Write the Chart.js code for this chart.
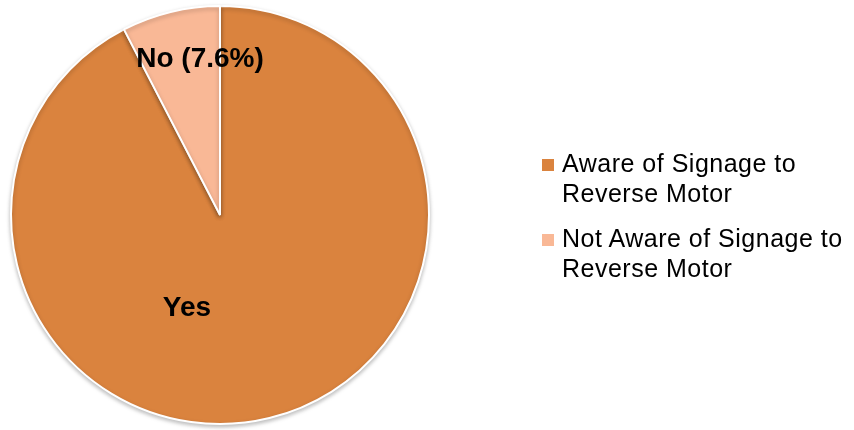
<!DOCTYPE html>
<html>
<head>
<meta charset="utf-8">
<script src="https://cdn.jsdelivr.net/npm/chart.js@4"></script>
<style>
  html, body { margin: 0; padding: 0; background: #fff; }
  #wrap { position: relative; width: 854px; height: 430px; }
  #legend { position: absolute; left: 542px; top: 148px; font-family: 'Liberation Sans', Arial, sans-serif; font-size: 25px; letter-spacing: 0.5px; color: #000; line-height: 30px; white-space: nowrap; }
  .item { display: flex; align-items: flex-start; margin-bottom: 15px; }
  .box { width: 12px; height: 12px; margin: 11px 8px 0 0; flex: none; }
</style>
</head>
<body>
<div id="wrap">
  <canvas id="chart" width="854" height="430"></canvas>
  <div id="legend"></div>
</div>
<script>
// Data
const categories = ['Aware of Signage to Reverse Motor', 'Not Aware of Signage to Reverse Motor'];
const legendLines = [['Aware of Signage to', 'Reverse Motor'], ['Not Aware of Signage to', 'Reverse Motor']];
const sliceLabels = ['Yes', 'No (7.6%)'];
const values = [92.4, 7.6];
const colors = ['#DA833E', '#F9B896'];

// Slice labels drawn inside the pie, offset from the pie centre
const labelOffsets = [{ dx: -33, dy: 101 }, { dx: -20, dy: -148 }];

const sliceLabelPlugin = {
    id: 'sliceLabels',
    afterDatasetsDraw(chart) {
        const ctx = chart.ctx;
        const meta = chart.getDatasetMeta(0);
        ctx.save();
        ctx.font = 'bold 28px "Liberation Sans", Arial, sans-serif';
        ctx.fillStyle = '#000';
        ctx.textAlign = 'center';
        ctx.textBaseline = 'alphabetic';
        meta.data.forEach(function(arc, i) {
            ctx.fillText(sliceLabels[i], arc.x + labelOffsets[i].dx, arc.y + labelOffsets[i].dy);
        });
        ctx.restore();
    }
};

const shadowPlugin = {
    id: 'pieShadow',
    beforeDatasetsDraw(chart) {
        const ctx = chart.ctx;
        ctx.save();
        ctx.shadowColor = 'rgba(0, 0, 0, 0.25)';
        ctx.shadowBlur = 4;
        ctx.shadowOffsetY = 2;
    },
    afterDatasetsDraw(chart) {
        chart.ctx.restore();
    }
};

new Chart(document.getElementById('chart').getContext('2d'), {
    type: 'pie',
    data: {
        labels: categories,
        datasets: [{
            data: values,
            backgroundColor: colors,
            borderColor: '#fff',
            borderWidth: 2
        }]
    },
    options: {
        responsive: false,
        animation: false,
        layout: { padding: { left: 10, right: 424, top: 5, bottom: 5 } },
        plugins: {
            legend: { display: false },
            tooltip: { enabled: false }
        }
    },
    plugins: [shadowPlugin, sliceLabelPlugin]
});

// HTML legend with wrapped text
const legend = document.getElementById('legend');
categories.forEach(function(cat, i) {
    const item = document.createElement('div');
    item.className = 'item';
    const box = document.createElement('div');
    box.className = 'box';
    box.style.background = colors[i];
    const text = document.createElement('div');
    text.innerHTML = legendLines[i].join('<br>');
    item.appendChild(box);
    item.appendChild(text);
    legend.appendChild(item);
});
</script>
</body>
</html>
